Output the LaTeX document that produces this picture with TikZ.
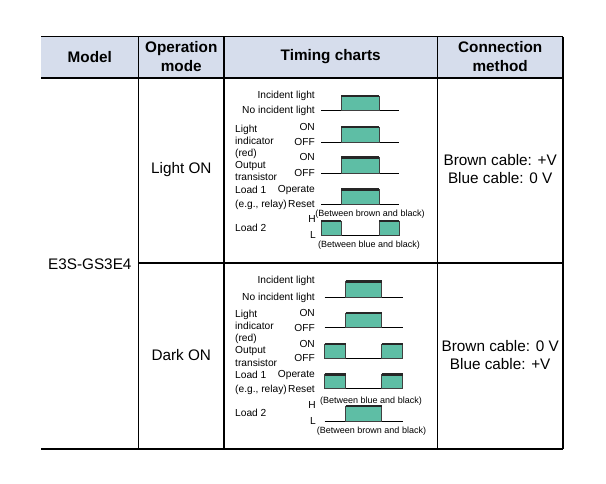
\documentclass[tikz,border=0pt]{standalone}
\usepackage{fontspec}
\setmainfont{Liberation Sans}
\definecolor{headblue}{RGB}{214,221,236}
\definecolor{pulsegreen}{RGB}{94,190,165}
\tikzset{
  grid/.style={line width=1.2pt},
  pulse/.style={fill=pulsegreen, draw=black!75, line width=0.5pt},
  hi/.style={line width=2.6pt, black!85},
  base/.style={line width=0.9pt},
  lab/.style={font=\fontsize{10.2}{11}\selectfont, inner sep=0pt, text height=0.72em, text depth=0pt},
  note/.style={font=\fontsize{9}{10}\selectfont, inner sep=0pt, text height=0.72em, text depth=0pt},
  big/.style={font=\fontsize{15.3}{18.5}\selectfont, inner sep=0pt, align=center},
  head/.style={font=\fontsize{15.3}{19}\selectfont\bfseries, inner sep=0pt, align=center}
}
% pulse from x #1 to #2, top #3, base #4
\def\pulse#1#2#3#4{\filldraw [pulse] (#1,#4) rectangle (#2,#3);
  \draw [hi] (#1,#3)--(#2,#3);}

\begin{document}
\begin{tikzpicture}[x=1pt,y=-1pt]
\useasboundingbox (0,0) rectangle (606,484);

% table
\fill [headblue] (41,36.7) rectangle (563,78);
\draw [grid] (41,36.7)--(563,36.7);
\draw [grid] (41,78)--(563,78);
\draw [grid] (138.7,263)--(563,263);
\draw [grid] (41,449)--(563,449);
\draw [grid] (138.7,36.7)--(138.7,449);
\draw [grid] (224,36.7)--(224,449);
\draw [grid] (437.5,36.7)--(437.5,449);
\draw [grid] (563,36.7)--(563,449);

\node [head] (hModel) at (89.8,57) {Model};
\node [head] (hMode) at (181.3,57) {Operation\\mode};
\node [head] (hChart) at (330.7,57) {Timing charts};
\node [head] (hConn) at (500.2,57) {Connection\\method};

\node [big] (model) at (89.8,264) {E3S-GS3E4};
\node [big] (modeA) at (181.3,170) {Light ON};
\node [big] (modeB) at (181.3,355) {Dark ON};
\node [big] (connA) at (500.2,169) {Brown cable: +V\\Blue cable: 0 V};
\node [big] (connB) at (500.2,355) {Brown cable: 0 V\\Blue cable: +V};

% Light ON charts
\draw [base] (321,110)--(399,110);
\pulse{341}{379}{96}{110}
\draw [base] (321,142)--(399,142);
\pulse{341}{379}{127}{142}
\draw [base] (321,173)--(399,173);
\pulse{341}{379}{157.5}{173}
\draw [base] (321,204)--(399,204);
\pulse{341}{379}{189.5}{204}
\draw [base] (321,235)--(399,235);
\pulse{321}{341}{221}{235}
\pulse{379}{399}{221}{235}

\node [lab, anchor=east] (a1) at (315,95) {Incident light};
\node [lab, anchor=east] (a2) at (315,110) {No incident light};
\node [lab, anchor=east] (a3) at (315,127) {ON};
\node [lab, anchor=east] (a4) at (315,142) {OFF};
\node [lab, anchor=east] (a5) at (315,157) {ON};
\node [lab, anchor=east] (a6) at (315,173) {OFF};
\node [lab, anchor=east] (a7) at (315,189) {Operate};
\node [lab, anchor=east] (a8) at (315,204) {Reset};
\node [lab, anchor=east] (a9) at (316,219) {H};
\node [lab, anchor=east] (a10) at (316,235) {L};
\node [lab, anchor=west] (a11) at (235,129) {Light};
\node [lab, anchor=west] (a12) at (235,140.5) {indicator};
\node [lab, anchor=west] (a13) at (235,152.5) {(red)};
\node [lab, anchor=west] (a14) at (235,164.5) {Output};
\node [lab, anchor=west] (a15) at (235,176.5) {transistor};
\node [lab, anchor=west] (a16) at (235,190) {Load 1};
\node [lab, anchor=west] (a17) at (235,204) {(e.g., relay)};
\node [lab, anchor=west] (a18) at (235,228) {Load 2};
\node [note] (a19) at (370,212.5) {(Between brown and black)};
\node [note] (a20) at (369,244) {(Between blue and black)};

% Dark ON charts
\draw [base] (324.5,297)--(402.5,297);
\pulse{345.5}{381.5}{281.5}{297}
\draw [base] (324.5,327.5)--(402.5,327.5);
\pulse{345.5}{381.5}{313}{327.5}
\draw [base] (324.5,358.5)--(402.5,358.5);
\pulse{324.5}{345.5}{344}{358.5}
\pulse{381.5}{402.5}{344}{358.5}
\draw [base] (324.5,388.5)--(402.5,388.5);
\pulse{324.5}{345.5}{374.5}{388.5}
\pulse{381.5}{402.5}{374.5}{388.5}
\draw [base] (324.5,421)--(402.5,421);
\pulse{345.5}{381.5}{406}{421}

\node [lab, anchor=east] (b1) at (315,280) {Incident light};
\node [lab, anchor=east] (b2) at (315,296.5) {No incident light};
\node [lab, anchor=east] (b3) at (315,312.5) {ON};
\node [lab, anchor=east] (b4) at (315,327.5) {OFF};
\node [lab, anchor=east] (b5) at (315,343.5) {ON};
\node [lab, anchor=east] (b6) at (315,358) {OFF};
\node [lab, anchor=east] (b7) at (315,374) {Operate};
\node [lab, anchor=east] (b8) at (315,388.5) {Reset};
\node [lab, anchor=east] (b9) at (316,405) {H};
\node [lab, anchor=east] (b10) at (316,420.5) {L};
\node [lab, anchor=west] (b11) at (235,314) {Light};
\node [lab, anchor=west] (b12) at (235,326) {indicator};
\node [lab, anchor=west] (b13) at (235,337.5) {(red)};
\node [lab, anchor=west] (b14) at (235,350) {Output};
\node [lab, anchor=west] (b15) at (235,362.5) {transistor};
\node [lab, anchor=west] (b16) at (235,374.5) {Load 1};
\node [lab, anchor=west] (b17) at (235,388.5) {(e.g., relay)};
\node [lab, anchor=west] (b18) at (235,413) {Load 2};
\node [note] (b19) at (371,399.5) {(Between blue and black)};
\node [note] (b20) at (371.5,430) {(Between brown and black)};
\end{tikzpicture}
\end{document}
